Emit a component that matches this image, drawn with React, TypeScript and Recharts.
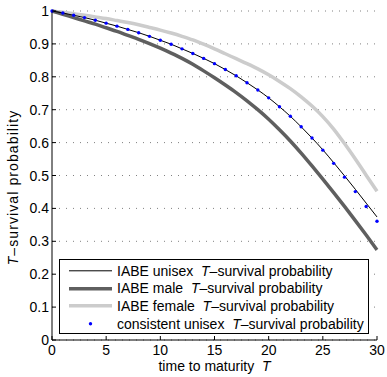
import React from 'react';
import { LineChart, Line, XAxis, YAxis, CartesianGrid, Legend, Label } from 'recharts';

const years = [0, 1, 2, 3, 4, 5, 6, 7, 8, 9, 10, 11, 12, 13, 14, 15, 16, 17, 18, 19, 20, 21, 22, 23, 24, 25, 26, 27, 28, 29, 30];
const unisexValues = [1.0, 0.994, 0.987, 0.98, 0.972, 0.963, 0.954, 0.944, 0.934, 0.923, 0.911, 0.899, 0.885, 0.871, 0.856, 0.84, 0.822, 0.803, 0.782, 0.76, 0.736, 0.709, 0.68, 0.648, 0.614, 0.578, 0.539, 0.499, 0.458, 0.416, 0.374];
const maleValues = [1.0, 0.99, 0.98, 0.97, 0.96, 0.949, 0.938, 0.926, 0.914, 0.901, 0.887, 0.872, 0.856, 0.838, 0.818, 0.797, 0.775, 0.752, 0.727, 0.7, 0.671, 0.639, 0.605, 0.568, 0.529, 0.489, 0.448, 0.406, 0.363, 0.319, 0.274];
const femaleValues = [1.0, 0.996, 0.992, 0.987, 0.982, 0.977, 0.971, 0.965, 0.958, 0.95, 0.942, 0.933, 0.923, 0.912, 0.899, 0.885, 0.87, 0.855, 0.84, 0.824, 0.806, 0.786, 0.764, 0.739, 0.711, 0.679, 0.641, 0.597, 0.55, 0.501, 0.452];
const consistentValues = [1.0, 0.994, 0.987, 0.98, 0.972, 0.963, 0.954, 0.944, 0.934, 0.923, 0.911, 0.899, 0.885, 0.871, 0.856, 0.84, 0.822, 0.803, 0.782, 0.76, 0.736, 0.709, 0.68, 0.648, 0.614, 0.577, 0.537, 0.495, 0.451, 0.406, 0.361];

const xTicks = [0, 5, 10, 15, 20, 25, 30];
const yTicks = [0, 0.1, 0.2, 0.3, 0.4, 0.5, 0.6, 0.7, 0.8, 0.9, 1];
const yTickLabels = ['0', '0.1', '0.2', '0.3', '0.4', '0.5', '0.6', '0.7', '0.8', '0.9', '1'];

const seriesNames = [
  'IABE unisex',
  'IABE male',
  'IABE female',
  'consistent unisex',
];
const seriesSuffix = 'survival probability';

const data = years.map((t, i) => ({
  t,
  unisex: unisexValues[i],
  male: maleValues[i],
  female: femaleValues[i],
  consistent: consistentValues[i],
}));

const FONT = '"Liberation Sans", Arial, Helvetica, sans-serif';
const TICK_LEN = 4;
const TICK_FS = 14;

const BottomTick = (p: any) => {
  const axisY = p.y - 3;
  return (
    <g>
      <line x1={p.x} y1={axisY} x2={p.x} y2={axisY - TICK_LEN} stroke="#000" strokeWidth={1} />
      <text x={p.x} y={axisY + 15} textAnchor="middle" fontSize={TICK_FS} fontFamily={FONT} fill="#000">
        {String(p.payload.value)}
      </text>
    </g>
  );
};

const TopTick = (p: any) => (
  <line x1={p.x} y1={p.y} x2={p.x} y2={p.y + TICK_LEN} stroke="#000" strokeWidth={1} />
);

const LeftTick = (p: any) => {
  const axisX = p.x + 3;
  const idx = yTicks.indexOf(p.payload.value);
  return (
    <g>
      <line x1={axisX} y1={p.y} x2={axisX + TICK_LEN} y2={p.y} stroke="#000" strokeWidth={1} />
      <text x={p.x} y={p.y + 5} textAnchor="end" fontSize={TICK_FS} fontFamily={FONT} fill="#000">
        {idx >= 0 ? yTickLabels[idx] : String(p.payload.value)}
      </text>
    </g>
  );
};

const RightTick = (p: any) => (
  <line x1={p.x} y1={p.y} x2={p.x - TICK_LEN} y2={p.y} stroke="#000" strokeWidth={1} />
);

const XLabel = (props: any) => {
  const vb = props.viewBox;
  const cx = vb.x + vb.width / 2;
  return (
    <text x={cx} y={vb.y + 31} textAnchor="middle" fontSize={14} fontFamily={FONT} fill="#000" style={{ whiteSpace: 'pre' }}>
      {'time to maturity  '}
      <tspan fontStyle="italic">T</tspan>
    </text>
  );
};

const YLabel = (props: any) => {
  const vb = props.viewBox;
  const x = vb.x + 10;
  const y = vb.y + vb.height / 2 + 12;
  return (
    <text
      x={x}
      y={y}
      transform={`rotate(-90, ${x}, ${y})`}
      textAnchor="middle"
      fontSize={14}
      fontFamily={FONT}
      fill="#000"
      letterSpacing={1.1}
    >
      <tspan fontStyle="italic">T</tspan>
      {'–survival probability'}
    </text>
  );
};

const legendStyles = [
  { kind: 'line', color: '#000000', width: 1 },
  { kind: 'line', color: '#5f5f5f', width: 3.5 },
  { kind: 'line', color: '#cccccc', width: 3.5 },
  { kind: 'dot', color: '#0000ff', width: 0 },
];

const LegendBox = () => (
  <div
    style={{
      boxSizing: 'border-box',
      width: 310,
      height: 75,
      border: '1px solid #000',
      background: '#fff',
      paddingTop: 2,
      fontFamily: FONT,
      fontSize: 14,
      color: '#000',
    }}
  >
    {seriesNames.map((name, i) => {
      const st = legendStyles[i];
      return (
        <div key={name} style={{ display: 'flex', alignItems: 'center', height: 17.6, whiteSpace: 'pre' }}>
          <svg width={57} height={17.6} style={{ flex: 'none' }}>
            {st.kind === 'line' ? (
              <line x1={9} y1={8.8} x2={52} y2={8.8} stroke={st.color} strokeWidth={st.width} />
            ) : (
              <circle cx={30.5} cy={8.8} r={1.7} fill={st.color} />
            )}
          </svg>
          <span>
            {name + '  '}
            <i>T</i>
            {'–' + seriesSuffix}
          </span>
        </div>
      );
    })}
  </div>
);

const BlueDot = (p: any) => {
  if (p.cx == null || p.cy == null) return <g key={p.key} />;
  return <circle key={p.key} cx={p.cx} cy={p.cy} r={1.7} fill="#0000ff" stroke="none" />;
};

export default function App() {
  return (
    <div style={{ position: 'absolute', left: 0, top: 0, width: 387, height: 377, background: '#fff' }}>
      <LineChart width={387} height={377} data={data} margin={{ top: 11, right: 10, bottom: 7, left: 8 }}>
        <CartesianGrid
          xAxisId="bottom"
          yAxisId="left"
          horizontal
          vertical={false}
          stroke="#808080"
          strokeDasharray="1 6"
        />
        <XAxis
          xAxisId="bottom"
          dataKey="t"
          type="number"
          domain={[0, 30]}
          ticks={xTicks}
          interval={0}
          height={30}
          tickSize={0}
          tickMargin={3}
          tick={(p: any) => <BottomTick {...p} />}
          tickLine={false}
          axisLine={{ stroke: '#000' }}
        >
          <Label content={XLabel} />
        </XAxis>
        <XAxis
          xAxisId="top"
          orientation="top"
          dataKey="t"
          type="number"
          domain={[0, 30]}
          ticks={xTicks}
          interval={0}
          height={0}
          tickSize={0}
          tickMargin={0}
          tick={(p: any) => <TopTick {...p} />}
          tickLine={false}
          axisLine={{ stroke: '#000' }}
        />
        <YAxis
          yAxisId="left"
          type="number"
          domain={[0, 1]}
          ticks={yTicks}
          interval={0}
          width={44}
          tickSize={0}
          tickMargin={3}
          tick={(p: any) => <LeftTick {...p} />}
          tickLine={false}
          axisLine={{ stroke: '#000' }}
        >
          <Label content={YLabel} />
        </YAxis>
        <YAxis
          yAxisId="right"
          orientation="right"
          type="number"
          domain={[0, 1]}
          ticks={yTicks}
          interval={0}
          width={0}
          tickSize={0}
          tickMargin={0}
          tick={(p: any) => <RightTick {...p} />}
          tickLine={false}
          axisLine={{ stroke: '#000' }}
        />
        <Line xAxisId="bottom" yAxisId="left" type="monotone" dataKey="female" stroke="#cccccc" strokeWidth={3.5} dot={false} isAnimationActive={false} />
        <Line xAxisId="bottom" yAxisId="left" type="monotone" dataKey="male" stroke="#5f5f5f" strokeWidth={3.5} dot={false} isAnimationActive={false} />
        <Line xAxisId="bottom" yAxisId="left" type="monotone" dataKey="unisex" stroke="#000000" strokeWidth={1} dot={false} isAnimationActive={false} />
        <Line xAxisId="bottom" yAxisId="left" type="monotone" dataKey="consistent" stroke="none" dot={BlueDot} activeDot={false} isAnimationActive={false} />
        <Legend
          layout="vertical"
          align="center"
          verticalAlign="middle"
          content={() => <LegendBox />}
          wrapperStyle={{ left: 59, top: 259, width: 310, height: 75 }}
        />
      </LineChart>
    </div>
  );
}
